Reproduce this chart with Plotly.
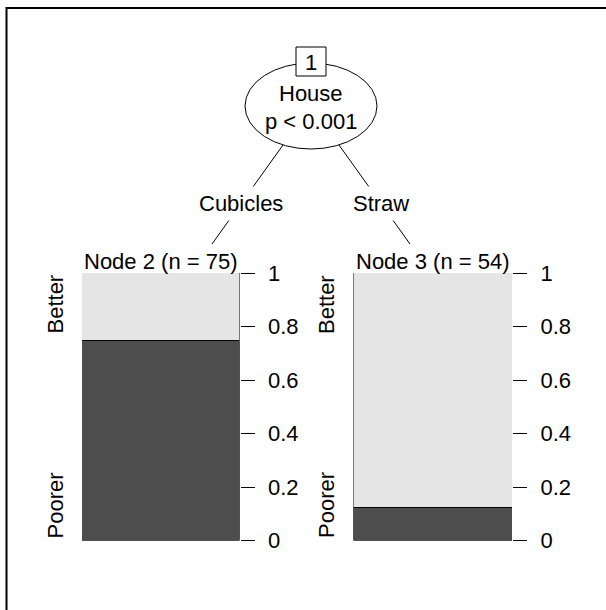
import plotly.graph_objects as go

# tree data
root_id = "1"
root_var = "House"
root_p = "p < 0.001"
edge_labels = ["Cubicles", "Straw"]
node_ids = [2, 3]
node_n = [75, 54]
classes = ["Poorer", "Better"]
poorer = [0.747, 0.12]
better = [0.253, 0.88]
tick_vals = [0, 0.2, 0.4, 0.6, 0.8, 1]
tick_text = ["0", "0.2", "0.4", "0.6", "0.8", "1"]

W, H = 606, 610
FONT = "Arial, Liberation Sans, sans-serif"
DARK = "#4D4D4D"
LIGHT = "#E5E5E5"

# layout in pixels
root_xy = (311, 106)
edge_end = [(212, 244), (410, 244)]
panel_x = [(82, 239.5), (353.5, 512)]
panel_top, panel_bot = 273, 540.5


def px(x):
    return x / W


def py(y):
    return 1 - y / H


fig = go.Figure()

# invisible trace for the drawing axes
fig.add_trace(go.Scatter(x=[0], y=[0], mode="markers", marker=dict(opacity=0),
                         hoverinfo="skip", showlegend=False, xaxis="x", yaxis="y"))

for i in range(2):
    xa = "x%d" % (i + 2)
    ya = "y%d" % (i + 2)
    fig.add_bar(x=["a"], y=[poorer[i]], name=classes[0], marker=dict(color=DARK, line=dict(color="black", width=1)),
                xaxis=xa, yaxis=ya, showlegend=False)
    fig.add_bar(x=["a"], y=[better[i]], name=classes[1], marker=dict(color=LIGHT, line=dict(color="black", width=1)),
                xaxis=xa, yaxis=ya, showlegend=False)
    x0, x1 = panel_x[i]
    fig.update_layout({
        "xaxis%d" % (i + 2): dict(domain=[px(x0), px(x1)], range=[-0.5, 0.5], visible=False,
                                  anchor=ya, automargin=False),
        "yaxis%d" % (i + 2): dict(domain=[py(panel_bot), py(panel_top)], range=[0, 1], side="right",
                                  anchor=xa, tickvals=tick_vals, ticktext=tick_text, ticks="outside",
                                  ticklen=14, tickcolor="black", tickwidth=1, showgrid=False,
                                  zeroline=False, showline=False, ticklabelstandoff=9, automargin=False,
                                  tickfont=dict(family=FONT, size=22, color="black")),
    })

shapes = []
# outer frame
shapes.append(dict(type="rect", xref="x", yref="y", x0=6.5, y0=8, x1=W + 20, y1=H + 20,
                   line=dict(color="black", width=2)))
# edges
for ex, ey in edge_end:
    shapes.append(dict(type="line", xref="x", yref="y", x0=root_xy[0], y0=root_xy[1], x1=ex, y1=ey,
                       line=dict(color="black", width=1)))
# root ellipse
shapes.append(dict(type="circle", xref="x", yref="y", x0=root_xy[0] - 66, x1=root_xy[0] + 66,
                   y0=root_xy[1] - 43, y1=root_xy[1] + 43, fillcolor="white",
                   line=dict(color="black", width=1)))
# id box
shapes.append(dict(type="rect", xref="x", yref="y", x0=root_xy[0] - 15, x1=root_xy[0] + 15,
                   y0=47, y1=76, fillcolor="white", line=dict(color="black", width=1)))

ann = []
tf = dict(family=FONT, size=22, color="black")
ann.append(dict(x=root_xy[0], y=62, text=root_id, xref="x", yref="y", showarrow=False, font=tf))
ann.append(dict(x=root_xy[0], y=93, text=root_var, xref="x", yref="y", showarrow=False, font=tf))
ann.append(dict(x=root_xy[0], y=121, text=root_p.replace("<", "&lt;"), xref="x", yref="y",
                showarrow=False, font=tf))
for i in range(2):
    ex, ey = edge_end[i]
    t = (203 - root_xy[1]) / (ey - root_xy[1])
    lx = root_xy[0] + t * (ex - root_xy[0])
    ann.append(dict(x=lx, y=203, text=edge_labels[i], xref="x", yref="y", showarrow=False,
                    font=tf, bgcolor="white", borderpad=4))
    x0, x1 = panel_x[i]
    ann.append(dict(x=(x0 + x1) / 2, y=261, text="Node %d (n = %d)" % (node_ids[i], node_n[i]),
                    xref="x", yref="y", showarrow=False, font=tf))
    ann.append(dict(x=x0 - 27, y=panel_top, text=classes[1], xref="x", yref="y", showarrow=False,
                    font=tf, textangle=-90, yanchor="top"))
    ann.append(dict(x=x0 - 27, y=panel_bot, text=classes[0], xref="x", yref="y", showarrow=False,
                    font=tf, textangle=-90, yanchor="bottom"))

fig.update_layout(
    template="none",
    width=W, height=H, autosize=False,
    margin=dict(l=0, r=0, t=0, b=0, pad=0, autoexpand=False),
    paper_bgcolor="white", plot_bgcolor="rgba(0,0,0,0)",
    barmode="stack", bargap=0,
    xaxis=dict(domain=[0, 1], range=[0, W], visible=False, fixedrange=True, automargin=False),
    yaxis=dict(domain=[0, 1], range=[H, 0], visible=False, fixedrange=True, automargin=False),
    shapes=shapes, annotations=ann,
    font=dict(family=FONT),
)

# drop the default page margin so the figure sits at the window's corner
fig.write_html("out.html", config={"displayModeBar": False},
               post_script="document.body.style.margin='0';"
                           "document.body.style.overflow='hidden';")
